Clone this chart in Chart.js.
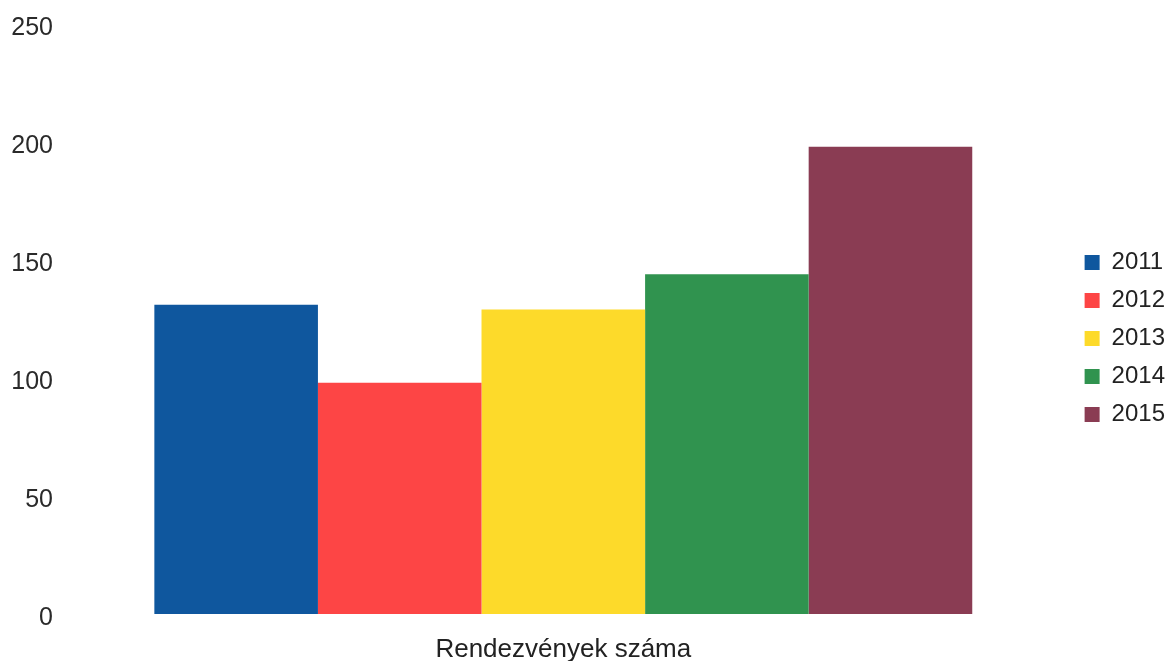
<!DOCTYPE html>
<html>
<head>
<meta charset="utf-8">
<script src="https://cdn.jsdelivr.net/npm/chart.js@4/dist/chart.umd.min.js"></script>
<style>
  html, body { margin: 0; padding: 0; background: #fff; }
  #wrap { width: 1169px; height: 661px; }
</style>
</head>
<body>
<div id="wrap"><canvas id="chart" width="1169" height="661"></canvas></div>
<script>
const categories = ['Rendezvények száma'];
const years = ['2011', '2012', '2013', '2014', '2015'];
const values = [131, 98, 129, 144, 198];
const colors = ['#0f579e', '#fd4545', '#fdda2a', '#30934f', '#8a3c53'];
const yTicks = [0, 50, 100, 150, 200, 250];

const font = "'Liberation Sans', Arial, sans-serif";

// nudge the legend a little right and up, like the original
const legendNudge = {
  id: 'legendNudge',
  afterLayout(chart) {
    const lg = chart.legend;
    if (!lg) return;
    lg.left += 14; lg.right += 14;
    lg.top -= 4; lg.bottom -= 4;
  }
};

new Chart(document.getElementById('chart'), {
  type: 'bar',
  data: {
    labels: categories,
    datasets: years.map((y, i) => ({
      label: y,
      data: [values[i]],
      backgroundColor: colors[i],
      borderWidth: 0
    }))
  },
  options: {
    responsive: false,
    animation: false,
    layout: { padding: { top: 24, right: 8, bottom: 0, left: 0 } },
    datasets: { bar: { categoryPercentage: 0.829, barPercentage: 1 } },
    plugins: {
      tooltip: { enabled: false },
      legend: {
        position: 'right',
        align: 'center',
        labels: {
          color: '#222',
          font: { family: font, size: 24 },
          boxWidth: 15,
          boxHeight: 15,
          padding: 14
        }
      }
    },
    scales: {
      x: {
        grid: { display: false },
        border: { display: false },
        ticks: { color: '#222', font: { family: font, size: 26, lineHeight: 1 }, padding: 15 },
        afterFit: s => { s.height = 47; }
      },
      y: {
        min: 0,
        max: 250,
        afterBuildTicks: s => { s.ticks = yTicks.map(v => ({ value: v })); },
        grid: { display: false, drawTicks: false },
        border: { display: false },
        // empty first line pushes the number a few px below the tick, as in the original
        ticks: {
          color: '#2a2a2a',
          font: { family: font, size: 25, lineHeight: '8px' },
          padding: 17,
          callback: v => ['', String(v)]
        },
        afterFit: s => { s.width = 70; s.paddingTop = 0; s.paddingBottom = 0; }
      }
    }
  },
  plugins: [legendNudge]
});
</script>
</body>
</html>
